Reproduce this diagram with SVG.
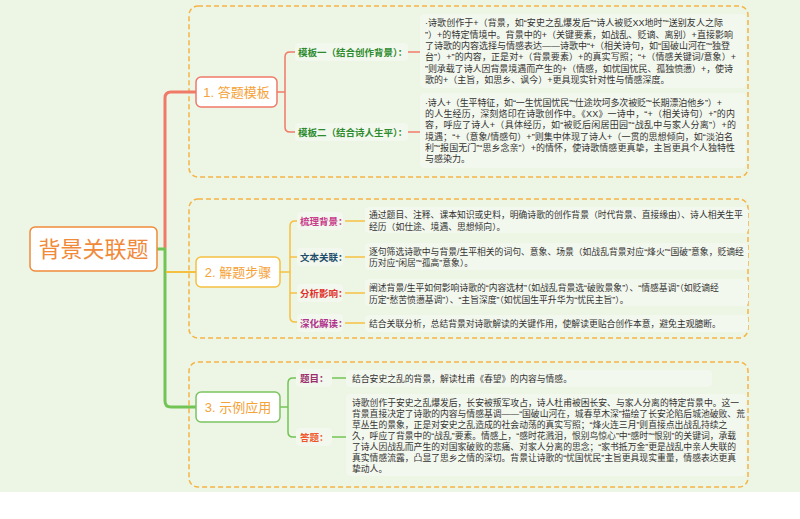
<svg xmlns="http://www.w3.org/2000/svg" width="800" height="519" viewBox="0 0 800 519">
<style>
text{font-family:"Liberation Sans","Noto Sans CJK SC",sans-serif}
.bg{fill:#EDF5E5}
.dash{fill:none;stroke:#F5B445;stroke-width:1.5;stroke-dasharray:5 3}
.node{fill:#FFFFFF;stroke-width:1.5}
.ntxt{font-size:13px;fill:#F5A238;text-anchor:middle}
.lbg{fill:#F3F8EE}
.tbg{fill:#F3F8EE}
.lbl{font-size:9.5px;font-weight:bold}
.t9{font-size:9px;fill:#333333}
.t88{font-size:8.8px;fill:#333333}
.red{fill:none;stroke:#F07A68;stroke-width:1.5}
.yel{fill:none;stroke:#F5C040;stroke-width:1.5}
.grn{fill:none;stroke:#72C455;stroke-width:1.5}
</style>
<rect x="0" y="0" width="800" height="519" fill="#FFFFFF"/>
<rect class="bg" x="0" y="0" width="800" height="492"/>

<g id="frames">
<rect class="dash" x="189" y="6" width="559" height="171" rx="9"/>
<rect class="dash" x="189" y="199" width="559" height="139" rx="9"/>
<rect class="dash" x="189" y="362" width="559" height="125" rx="9"/>
</g>

<g id="connectors">
<path d="M165 249 V98 Q165 92 171 92 H196" fill="none" stroke="#F07A68" stroke-width="3"/>
<path d="M165 249 V401 Q165 407 171 407 H196" fill="none" stroke="#72C455" stroke-width="3"/>
<path d="M157 249 H166" fill="none" stroke="#72C455" stroke-width="3"/>
<path d="M166 272 H196" fill="none" stroke="#F5C040" stroke-width="2"/>
<path class="red" d="M277 92 H285"/>
<path class="red" d="M297 52 H290 Q285 52 285 57 V127 Q285 132 290 132 H297"/>
<path class="red" d="M408 52 H420"/>
<path class="red" d="M408 132 H420"/>
<path class="yel" d="M280 272 H290"/>
<path class="yel" d="M300 221 H295 Q290 221 290 226 V317 Q290 322 295 322 H300"/>
<path class="yel" d="M290 257 H300"/>
<path class="yel" d="M290 293 H300"/>
<path class="yel" d="M345 221 H365"/>
<path class="yel" d="M345 257 H365"/>
<path class="yel" d="M345 293 H365"/>
<path class="yel" d="M345 323 H365"/>
<path class="grn" d="M280 407 H288"/>
<path class="grn" d="M298 378 H293 Q288 378 288 383 V432 Q288 437 293 437 H298"/>
<path class="grn" d="M332 378 H346"/>
<path class="grn" d="M332 437 H346"/>
</g>

<g id="root">
<rect class="node" x="30" y="227" width="127" height="44" rx="5" stroke="#F08A3A"/>
<text x="93.5" y="257" font-size="22" fill="#F08A3A" text-anchor="middle">背景关联题</text>
</g>

<g id="branch1">
<rect class="node" x="196" y="77" width="81" height="30" rx="5" stroke="#F07A68"/>
<text class="ntxt" x="236.5" y="97">1. 答题模板</text>
</g>
<g id="branch2">
<rect class="node" x="196" y="257" width="84" height="30" rx="5" stroke="#F5C040"/>
<text class="ntxt" x="238" y="277">2. 解题步骤</text>
</g>
<g id="branch3">
<rect class="node" x="196" y="392" width="84" height="30" rx="5" stroke="#7CC460"/>
<text class="ntxt" x="238" y="412">3. 示例应用</text>
</g>

<g id="template1">
<rect class="lbg" x="295" y="43" width="113" height="18" rx="4"/>
<text class="lbl" x="298" y="55.5" fill="#2E8B2E">模板一（结合创作背景）：</text>
<rect class="tbg" x="420" y="14" width="326" height="74" rx="4"/>
<text class="t9" x="425" y="26.3" textLength="298" lengthAdjust="spacing">·诗歌创作于+（背景，如“安史之乱爆发后”“诗人被贬XX地时”“送别友人之际</text>
<text class="t9" x="425" y="37.6" textLength="308" lengthAdjust="spacing">”）+的特定情境中。背景中的+（关键要素，如战乱、贬谪、离别）+直接影响</text>
<text class="t9" x="425" y="48.9" textLength="305" lengthAdjust="spacing">了诗歌的内容选择与情感表达——诗歌中“+（相关诗句，如“国破山河在”“独登</text>
<text class="t9" x="425" y="60.2" textLength="311" lengthAdjust="spacing">台”）+”的内容，正是对+（背景要素）+的真实写照；“+（情感关键词/意象）+</text>
<text class="t9" x="425" y="71.5" textLength="308" lengthAdjust="spacing">”则承载了诗人因背景境遇而产生的+（情感，如忧国忧民、孤独愤懑）+，使诗</text>
<text class="t9" x="425" y="82.8">歌的+（主旨，如思乡、讽今）+更具现实针对性与情感深度。</text>
</g>

<g id="template2">
<rect class="lbg" x="295" y="123" width="113" height="18" rx="4"/>
<text class="lbl" x="298" y="135.5" fill="#2E8B2E">模板二（结合诗人生平）：</text>
<rect class="tbg" x="420" y="93" width="326" height="75" rx="4"/>
<text class="t9" x="425" y="105.6" textLength="297" lengthAdjust="spacing">·诗人+（生平特征，如“一生忧国忧民”“仕途坎坷多次被贬”“长期漂泊他乡”）+</text>
<text class="t9" x="425" y="116.9" textLength="310" lengthAdjust="spacing">的人生经历，深刻烙印在诗歌创作中。《XX》一诗中，“+（相关诗句）+”的内</text>
<text class="t9" x="425" y="128.2" textLength="311" lengthAdjust="spacing">容，呼应了诗人+（具体经历，如“被贬后闲居田园”“战乱中与家人分离”）+的</text>
<text class="t9" x="425" y="139.5" textLength="308" lengthAdjust="spacing">境遇；“+（意象/情感句）+”则集中体现了诗人+（一贯的思想倾向，如“淡泊名</text>
<text class="t9" x="425" y="150.8" textLength="310" lengthAdjust="spacing">利”“报国无门”“思乡念亲”）+的情怀，使诗歌情感更真挚，主旨更具个人独特性</text>
<text class="t9" x="425" y="162.1">与感染力。</text>
</g>

<g id="step1">
<rect class="lbg" x="297" y="212" width="46" height="18" rx="4"/>
<text class="lbl" x="300" y="224.5" fill="#C83C8C">梳理背景：</text>
<rect class="tbg" x="365" y="207" width="383" height="26" rx="4"/>
<text class="t88" x="369" y="218.2">通过题目、注释、课本知识或史料，明确诗歌的创作背景（时代背景、直接缘由）、诗人相关生平</text>
<text class="t88" x="369" y="229.7">经历（如仕途、境遇、思想倾向）。</text>
</g>
<g id="step2">
<rect class="lbg" x="297" y="248" width="46" height="18" rx="4"/>
<text class="lbl" x="300" y="260.5" fill="#1E4D6B">文本关联：</text>
<rect class="tbg" x="365" y="243" width="383" height="27" rx="4"/>
<text class="t88" x="369" y="254.7">逐句筛选诗歌中与背景/生平相关的词句、意象、场景（如战乱背景对应“烽火”“国破”意象，贬谪经</text>
<text class="t88" x="369" y="266">历对应“闲居”“孤高”意象）。</text>
</g>
<g id="step3">
<rect class="lbg" x="297" y="284" width="46" height="18" rx="4"/>
<text class="lbl" x="300" y="296.5" fill="#E0302A">分析影响：</text>
<rect class="tbg" x="365" y="279" width="383" height="27" rx="4"/>
<text class="t88" x="369" y="291.3">阐述背景/生平如何影响诗歌的“内容选材”（如战乱背景选“破败景象”）、“情感基调”（如贬谪经</text>
<text class="t88" x="369" y="302.5">历定“愁苦愤懑基调”）、“主旨深度”（如忧国生平升华为“忧民主旨”）。</text>
</g>
<g id="step4">
<rect class="lbg" x="297" y="314" width="46" height="18" rx="4"/>
<text class="lbl" x="300" y="326.5" fill="#B0358C">深化解读：</text>
<rect class="tbg" x="365" y="315" width="383" height="17" rx="4"/>
<text class="t88" x="369" y="326.5">结合关联分析，总结背景对诗歌解读的关键作用，使解读更贴合创作本意，避免主观臆断。</text>
</g>

<g id="question">
<rect class="lbg" x="296" y="369" width="36" height="18" rx="4"/>
<text class="lbl" x="300" y="381.5" fill="#9B2F6E">题目：</text>
<rect class="tbg" x="346" y="370" width="366" height="17" rx="4"/>
<text class="t88" x="352" y="381.5">结合安史之乱的背景，解读杜甫《春望》的内容与情感。</text>
</g>
<g id="answer">
<rect class="lbg" x="296" y="428" width="36" height="18" rx="4"/>
<text class="lbl" x="300" y="440.5" fill="#F0552A">答题：</text>
<rect class="tbg" x="346" y="394" width="400" height="82" rx="4"/>
<text class="t88" x="352" y="406.4">诗歌创作于安史之乱爆发后，长安被叛军攻占，诗人杜甫被困长安、与家人分离的特定背景中。这一</text>
<text class="t88" x="352" y="417.3">背景直接决定了诗歌的内容与情感基调——“国破山河在，城春草木深”描绘了长安沦陷后城池破败、荒</text>
<text class="t88" x="352" y="428.2">草丛生的景象，正是对安史之乱造成的社会动荡的真实写照；“烽火连三月”则直接点出战乱持续之</text>
<text class="t88" x="352" y="439.1">久，呼应了背景中的“战乱”要素。情感上，“感时花溅泪，恨别鸟惊心”中“感时”“恨别”的关键词，承载</text>
<text class="t88" x="352" y="450">了诗人因战乱而产生的对国家破败的悲痛、对家人分离的思念；“家书抵万金”更是战乱中亲人失联的</text>
<text class="t88" x="352" y="460.9">真实情感流露，凸显了思乡之情的深切。背景让诗歌的“忧国忧民”主旨更具现实重量，情感表达更真</text>
<text class="t88" x="352" y="471.8">挚动人。</text>
</g>
</svg>
